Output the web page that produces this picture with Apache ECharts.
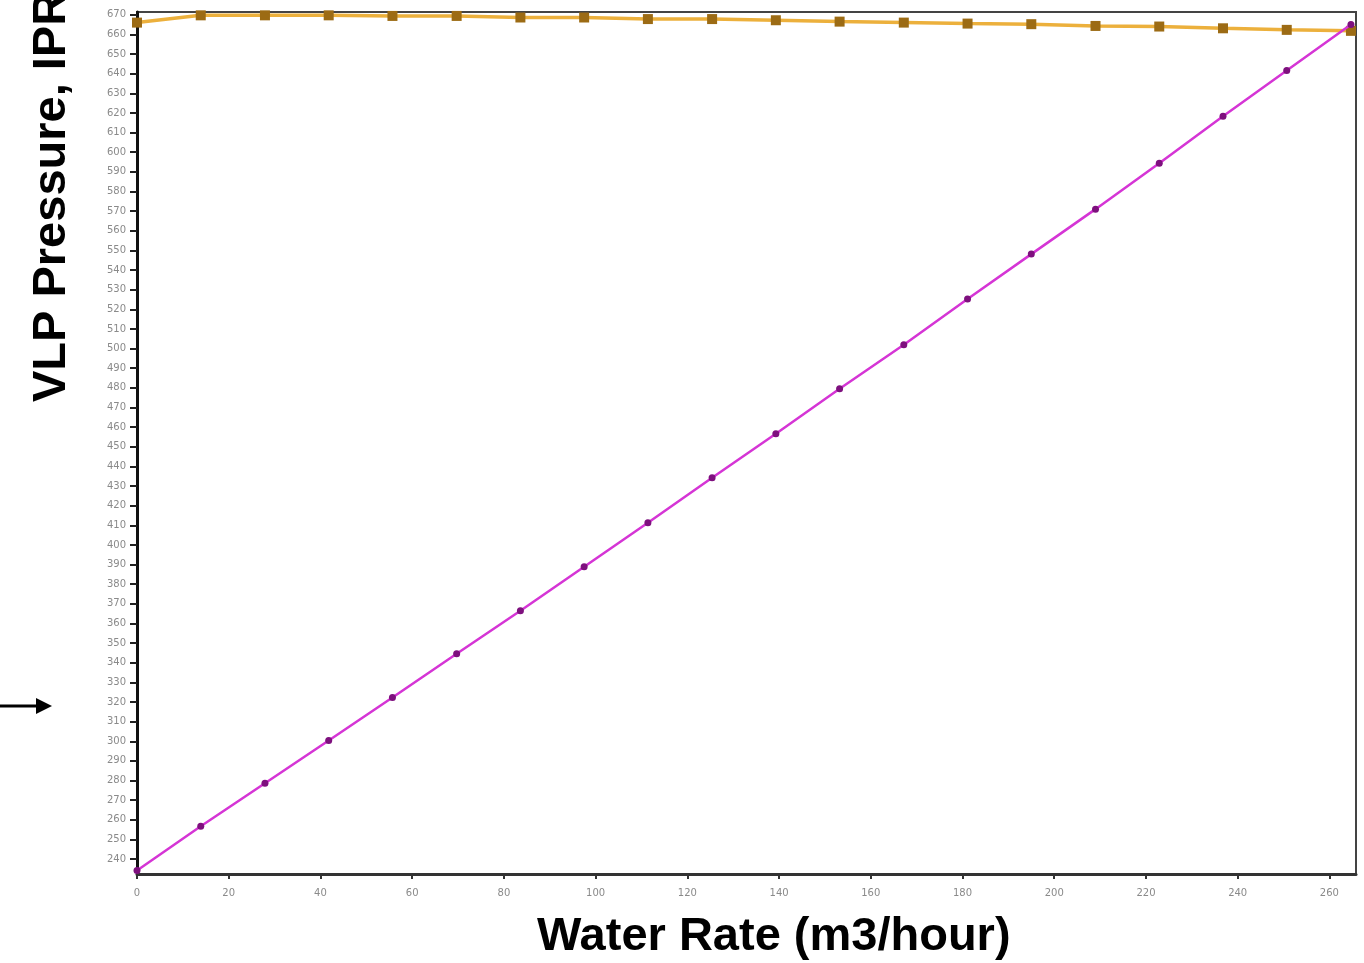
<!DOCTYPE html>
<html>
<head>
<meta charset="utf-8">
<script src="https://cdn.jsdelivr.net/npm/echarts@6/dist/echarts.min.js"></script>
<style>
html, body { margin: 0; padding: 0; background: #fff; }
#main { width: 1364px; height: 963px; }
</style>
</head>
<body>
<div id="main"></div>
<script>
// water rate (m3/hour) at each calculated point
var waterRate = [0, 13.9, 27.9, 41.8, 55.7, 69.7, 83.6, 97.5, 111.4, 125.4, 139.3, 153.2, 167.2, 181.1, 195.0, 209.0, 222.9, 236.8, 250.7, 264.7];
// IPR pressure (orange squares)
var iprPressure = [666.0, 669.7, 669.7, 669.7, 669.4, 669.4, 668.6, 668.6, 667.8, 667.8, 667.2, 666.5, 666.0, 665.5, 665.2, 664.3, 664.0, 663.1, 662.3, 661.8];
// VLP pressure (purple line)
var vlpPressure = [234.2, 256.7, 278.6, 300.4, 322.3, 344.6, 366.5, 388.9, 411.3, 434.2, 456.6, 479.5, 501.9, 525.2, 548.1, 571.0, 594.4, 618.3, 641.6, 665.0];
// tick labels
var xTicks = [0, 20, 40, 60, 80, 100, 120, 140, 160, 180, 200, 220, 240, 260];
var yTicks = [240, 250, 260, 270, 280, 290, 300, 310, 320, 330, 340, 350, 360, 370, 380, 390, 400, 410, 420, 430, 440, 450, 460, 470, 480, 490, 500, 510, 520, 530, 540, 550, 560, 570, 580, 590, 600, 610, 620, 630, 640, 650, 660, 670];

function pairs(xs, ys) {
    var out = [];
    for (var i = 0; i < xs.length; i++) out.push([xs[i], ys[i]]);
    return out;
}

var myChart = echarts.init(document.getElementById('main'));

var option = {
    backgroundColor: '#ffffff',
    animation: false,
    grid: {
        left: 137, right: 8, top: 12, bottom: 89,
        show: true,
        borderColor: '#444',
        borderWidth: 2,
        backgroundColor: '#ffffff'
    },
    xAxis: {
        type: 'value',
        min: 0,
        max: 265.8,
        axisLine: { show: true, lineStyle: { color: '#333', width: 3 } },
        axisTick: { show: true, length: 5, customValues: xTicks, lineStyle: { color: '#333', width: 2 } },
        axisLabel: { customValues: xTicks, color: '#8a8a8a', fontSize: 10, margin: 14, fontFamily: 'DejaVu Sans' },
        splitLine: { show: false }
    },
    yAxis: {
        type: 'value',
        min: 232.4,
        max: 671.4,
        axisLine: { show: true, lineStyle: { color: '#111', width: 3 } },
        axisTick: { show: true, length: 7, customValues: yTicks, lineStyle: { color: '#222', width: 2 } },
        axisLabel: { customValues: yTicks, color: '#8a8a8a', fontSize: 10, margin: 11, fontFamily: 'DejaVu Sans' },
        splitLine: { show: false }
    },
    graphic: [
        {
            type: 'text',
            left: 537,
            top: 914,
            style: {
                text: 'Water Rate (m3/hour)',
                font: 'bold 47px "Liberation Sans", Arial, sans-serif',
                fill: '#000'
            }
        },
        {
            type: 'text',
            x: 52,
            y: 402,
            rotation: Math.PI / 2,
            style: {
                text: 'VLP Pressure, IPR',
                font: 'bold 47px "Liberation Sans", Arial, sans-serif',
                fill: '#000',
                textAlign: 'left',
                textVerticalAlign: 'middle'
            }
        },
        {
            type: 'line',
            shape: { x1: 0, y1: 706, x2: 38, y2: 706 },
            style: { stroke: '#000', lineWidth: 3 }
        },
        {
            type: 'polygon',
            shape: { points: [[36, 698], [52, 706], [36, 714]] },
            style: { fill: '#000' }
        }
    ],
    series: [
        {
            name: 'IPR',
            type: 'line',
            data: pairs(waterRate, iprPressure),
            symbol: 'rect',
            symbolSize: 10,
            lineStyle: { color: '#ecb03c', width: 3.5 },
            itemStyle: { color: '#9c6b14' },
            z: 2
        },
        {
            name: 'VLP',
            type: 'line',
            data: pairs(waterRate, vlpPressure),
            symbol: 'circle',
            symbolSize: 7,
            lineStyle: { color: '#d535d5', width: 2.5 },
            itemStyle: { color: '#7e107e' },
            z: 3
        }
    ]
};
myChart.setOption(option);
</script>
</body>
</html>
